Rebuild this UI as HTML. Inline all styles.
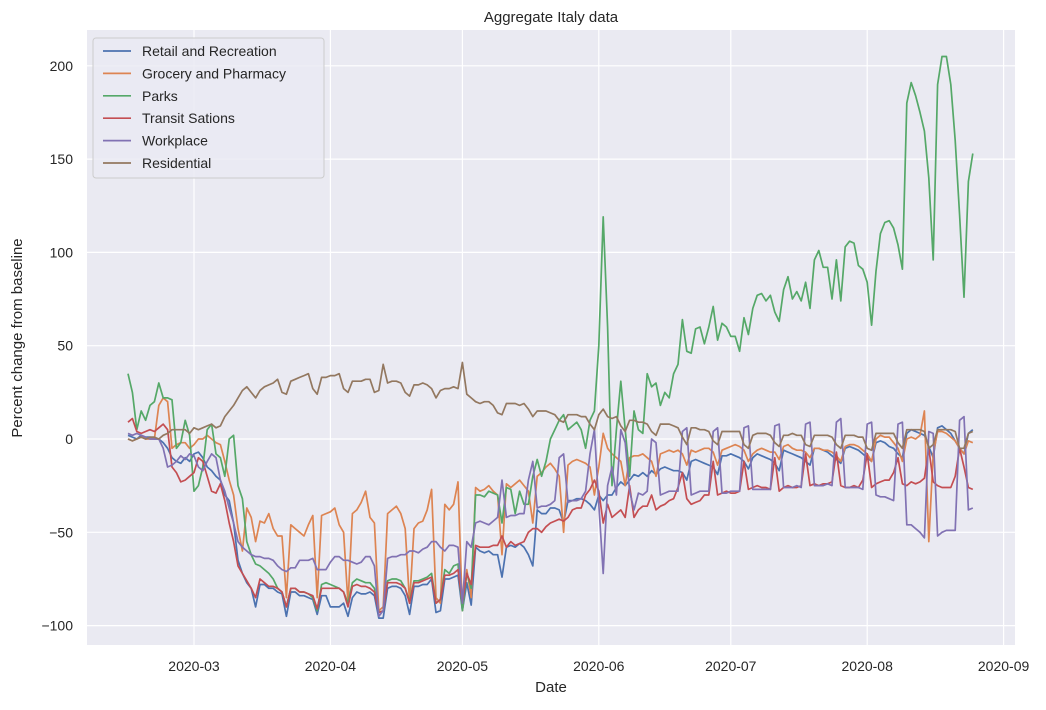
<!DOCTYPE html>
<html><head><meta charset="utf-8"><style>
body{margin:0;background:#fff;font-family:"Liberation Sans",sans-serif;}
svg text{font-family:"Liberation Sans",sans-serif;fill:#262626;}
</style></head><body>
<svg id="chart" width="1046" height="705">
<rect x="87" y="30" width="928" height="615" fill="#eaeaf2"/>
<g id="grid"></g><g id="series"></g><g id="ticks"></g>
<text x="551" y="22" font-size="15" text-anchor="middle">Aggregate Italy data</text>
<text x="551" y="692" font-size="15" text-anchor="middle">Date</text>
<text x="22" y="338" font-size="15" text-anchor="middle" transform="rotate(-90 22 338)">Percent change from baseline</text>
<g id="legend"></g>
</svg>
<script>
const names=["Retail and Recreation","Grocery and Pharmacy","Parks","Transit Sations","Workplace","Residential"];
const colors=["#4c72b0","#dd8452","#55a868","#c44e52","#8172b3","#937860"];
const yTicks=[-100,-50,0,50,100,150,200];
const xTickLabels=["2020-03","2020-04","2020-05","2020-06","2020-07","2020-08","2020-09"];
const xTickDays=[15,46,76,107,137,168,199];
const retail=[
[2,1,0,2,1,1,0],[0,-2,-5,-10,-12,-13,-10],[-12,-8,-7,-10,-15,-17,-20],[-22,-30,-33,-45,-65,-72,-77],
[-80,-90,-78,-78,-80,-80,-82],[-83,-95,-82,-82,-84,-84,-85],[-86,-94,-84,-84,-90,-90,-90],[-88,-95,-85,-82,-83,-83,-82],
[-84,-96,-96,-80,-79,-79,-80],[-84,-94,-79,-79,-78,-78,-75],[-93,-92,-75,-75,-74,-73,-92],[-77,-89,-58,-60,-61,-60,-62],
[-62,-74,-58,-57,-58,-56,-58],[-62,-68,-38,-40,-40,-37,-37],[-38,-45,-33,-33,-32,-32,-33],[-35,-38,-30,-33,-30,-30,-26],
[-23,-25,-22,-19,-20,-18,-20],[-17,-19,-16,-15,-16,-17,-17],[-18,-22,-12,-11,-12,-13,-14],[-15,-19,-9,-9,-8,-9,-10],
[-12,-16,-10,-8,-9,-10,-11],[-13,-17,-6,-7,-8,-9,-10],[-12,-14,-5,-5,-6,-7,-9],[-11,-13,-5,-4,-5,-6,-8],
[-10,-12,-2,-1,-2,-4,-5],[-8,-10,3,5,4,3,2],[-4,-10,6,7,5,3,-1],[-5,-8,3,5]].flat();
const grocery=[
[0,-1,0,1,0,0,0],[18,22,20,-5,-3,-2,-2],[-5,-3,0,0,2,0,-2],[-3,-12,-22,-30,-48,-60,-37],
[-42,-55,-44,-45,-40,-48,-52],[-52,-85,-46,-48,-50,-52,-46],[-41,-85,-41,-40,-39,-37,-46],[-50,-88,-40,-38,-34,-28,-42],
[-45,-92,-90,-40,-38,-36,-40],[-48,-88,-48,-45,-44,-38,-27],[-85,-88,-35,-38,-35,-23,-92],[-70,-85,-26,-28,-27,-25,-28],
[-30,-62,-24,-26,-24,-22,-25],[-28,-45,-20,-18,-15,-13,-16],[-20,-50,-14,-12,-11,-12,-13],[-15,-30,-15,3,-5,-8,-10],
[-12,-25,-10,-9,-9,-8,-10],[-12,-20,-8,-7,-6,-7,-6],[-8,-14,-6,-7,-6,-5,-5],[-7,-14,-6,-5,-4,-3,-4],
[-6,-12,-8,-6,-5,-6,-7],[-7,-11,-4,-3,-5,-6,-6],[-7,-10,-5,-5,-6,-6,-7],[-9,-12,-4,-3,-3,-4,-6],
[-8,-12,0,2,1,1,-2],[-5,-12,0,1,0,2,15],[-55,-8,4,4,3,1,-1],[-5,-8,-1,-2]].flat();
const parks=[
[35,25,5,15,10,18,20],[30,22,22,21,-5,-2,10],[2,-28,-25,-15,5,8,-8],[-10,-20,0,2,-25,-32,-55],
[-62,-67,-68,-70,-72,-75,-80],[-82,-90,-80,-80,-82,-82,-83],[-85,-92,-78,-77,-78,-79,-80],[-82,-88,-77,-75,-76,-77,-77],
[-80,-93,-92,-76,-75,-75,-76],[-80,-87,-76,-76,-75,-74,-72],[-88,-86,-70,-72,-68,-67,-92],[-72,-80,-30,-30,-31,-28,-29],
[-30,-45,-26,-27,-40,-28,-35],[-35,-20,-11,-20,-12,0,5],[10,13,5,7,9,5,-5],[10,15,50,119,60,-25,5],
[31,5,-20,15,5,3,35],[28,30,18,25,22,35,40],[64,47,46,59,60,51,60],[71,53,62,60,55,55,47],
[65,56,70,77,78,74,77],[68,63,80,87,75,79,74],[84,70,96,101,92,92,75],[96,74,103,106,105,93,91],
[84,61,90,110,116,117,113],[104,91,180,191,184,175,165],[140,96,190,205,205,190,160],[120,76,138,153]].flat();
const transit=[
[9,11,4,3,4,5,4],[6,8,5,-15,-18,-23,-22],[-20,-18,-10,-12,-20,-28,-29],[-24,-33,-45,-55,-68,-72,-76],
[-80,-85,-75,-77,-79,-79,-80],[-82,-90,-80,-80,-82,-82,-83],[-84,-91,-80,-80,-80,-80,-80],[-82,-90,-79,-78,-79,-79,-80],
[-82,-93,-92,-77,-77,-77,-78],[-80,-88,-77,-77,-76,-75,-74],[-88,-86,-73,-73,-72,-70,-88],[-72,-78,-57,-58,-58,-58,-57],
[-57,-52,-58,-55,-57,-56,-55],[-50,-48,-48,-50,-47,-45,-44],[-43,-44,-42,-38,-37,-37,-30],[-27,-22,-28,-45,-35,-42,-40],
[-38,-42,-25,-42,-38,-36,-36],[-30,-38,-36,-35,-33,-32,-26],[-18,-32,-35,-34,-33,-30,-30],[-12,-30,-29,-28,-29,-29,-28],
[-12,-27,-26,-25,-26,-26,-27],[-10,-28,-26,-25,-26,-26,-25],[-8,-25,-24,-25,-24,-24,-23],[-7,-25,-26,-26,-25,-26,-22],
[-8,-26,-24,-23,-22,-22,-18],[-10,-24,-25,-23,-24,-23,-21],[-5,-23,-25,-26,-26,-26,-20],[-5,-15,-26,-27]].flat();
const workplace=[
[3,2,3,2,1,0,0],[0,-5,-15,-14,-12,-9,-11],[-8,-9,-15,-17,-12,-8,-10],[-22,-28,-37,-45,-55,-58,-60],
[-62,-63,-63,-64,-64,-65,-68],[-70,-71,-69,-69,-65,-65,-65],[-64,-70,-70,-70,-66,-63,-63],[-65,-65,-66,-67,-66,-63,-63],
[-68,-95,-92,-64,-63,-63,-62],[-62,-60,-60,-61,-59,-58,-55],[-55,-58,-60,-57,-57,-58,-88],[-55,-58,-45,-44,-45,-46,-44],
[-42,-22,-42,-41,-41,-40,-40],[-22,-12,-37,-36,-36,-35,-33],[-10,-8,-34,-33,-33,-32,-28],[-8,5,-35,-72,-25,-15,-30],
[5,-2,-28,-38,-29,-30,-28],[0,-2,-30,-29,-28,-28,-28],[4,6,-30,-29,-28,-28,-28],[4,6,-29,-29,-28,-28,-28],
[6,7,-27,-27,-27,-27,-27],[7,8,-26,-26,-26,-25,-26],[8,9,-25,-25,-25,-24,-25],[9,11,-26,-26,-26,-26,-27],
[8,9,-30,-31,-31,-32,-33],[8,9,-46,-46,-48,-50,-53],[4,3,-52,-50,-49,-49,-49],[10,12,-38,-37]].flat();
const residential=[
[0,-1,0,1,0,1,1],[0,2,3,5,5,5,5],[3,6,5,6,7,8,6],[7,12,15,18,22,26,28],
[25,22,26,28,29,30,32],[25,24,31,32,33,34,35],[27,24,33,33,34,34,35],[27,25,31,31,31,32,32],
[25,26,40,30,31,31,30],[25,23,29,29,30,29,27],[22,26,27,27,28,27,41],[24,22,20,19,20,20,18],
[14,13,19,19,19,18,19],[16,12,15,15,15,14,13],[10,9,13,13,13,12,12],[8,5,13,16,12,11,12],
[7,4,10,10,9,9,8],[4,2,8,8,8,7,6],[1,-3,6,6,5,5,4],[-1,-3,4,4,4,4,4],
[-3,-5,2,3,3,3,2],[-2,-4,2,2,3,2,2],[-3,-4,2,2,2,2,1],[-3,-5,2,2,2,1,1],
[-5,-6,3,3,3,3,3],[-2,-5,5,5,5,5,4],[-5,-3,5,5,5,5,4],[-5,-5,3,4]].flat();
const allSeries=[retail,grocery,parks,transit,workplace,residential];
const seriesKeys=["retail-line","grocery-line","parks-line","transit-line","workplace-line","residential-line"];

const NS="http://www.w3.org/2000/svg";
function xs(d){return 194+(d-15)*4.40;}
function ys(v){return 439-v*1.866;}
function mk(tag,attrs,parent){const e=document.createElementNS(NS,tag);for(const k in attrs)e.setAttribute(k,attrs[k]);parent.appendChild(e);return e;}
const grid=document.getElementById('grid'),ticks=document.getElementById('ticks'),ser=document.getElementById('series'),leg=document.getElementById('legend');
yTicks.forEach(v=>{
  const l=mk('line',{x1:87,x2:1015,y1:ys(v),y2:ys(v),stroke:'#fff','stroke-width':1.2},grid);
  
  
  const t=mk('text',{x:73,y:ys(v)+5,'font-size':14,'text-anchor':'end'},ticks);
  t.textContent=v===0?'0':(v<0?'\u2212'+(-v):String(v));
  
  
});
xTickDays.forEach((d,i)=>{
  const l=mk('line',{x1:xs(d),x2:xs(d),y1:30,y2:645,stroke:'#fff','stroke-width':1.2},grid);
  
  
  const t=mk('text',{x:xs(d),y:671,'font-size':14,'text-anchor':'middle'},ticks);
  t.textContent=xTickLabels[i];
  
  
});
allSeries.forEach((s,i)=>{
  const pts=s.map((v,d)=>xs(d).toFixed(1)+','+ys(v).toFixed(1)).join(' ');
  const p=mk('polyline',{points:pts,fill:'none',stroke:colors[i],'stroke-width':1.7,'stroke-linejoin':'round'},ser);
  
  
});
const box=mk('rect',{x:93,y:38,width:231,height:140,rx:3,fill:'#eaeaf2','fill-opacity':0.8,stroke:'#cccccc'},leg);


names.forEach((n,i)=>{
  const y=51+i*22.4;
  const l=mk('line',{x1:103,x2:131,y1:y,y2:y,stroke:colors[i],'stroke-width':1.7},leg);
  
  
  const t=mk('text',{x:142,y:y+5,'font-size':14},leg);
  t.textContent=n;
  
  
});
</script>
</body></html>
